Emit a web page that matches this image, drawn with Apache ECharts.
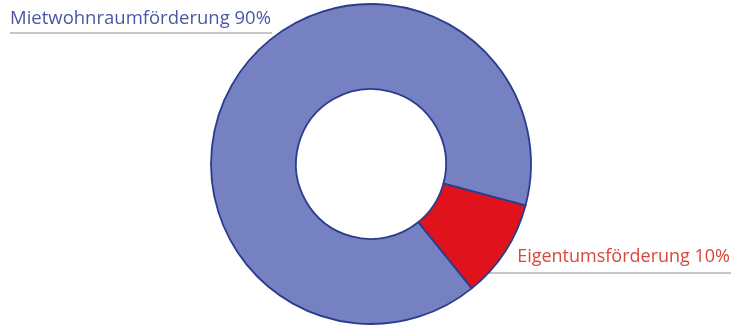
<!DOCTYPE html>
<html>
<head>
<meta charset="utf-8">
<script src="https://cdn.jsdelivr.net/npm/echarts@6/dist/echarts.min.js"></script>
<style>
  html, body { margin: 0; padding: 0; background: #fff; }
  #chart { width: 731px; height: 330px; }
</style>
</head>
<body>
<div id="chart"></div>
<script>
// Anteile der Förderung in Prozent
var categories = ['Eigentumsförderung', 'Mietwohnraumförderung'];
var shares = [10, 90];

var sliceColors = ['#e0131d', '#7581c0'];
var labelColors = ['#d9463c', '#4a58a3'];

var CX = 371, CY = 164, R_IN = 75, R_OUT = 160;

var chart = echarts.init(document.getElementById('chart'));

// x of the outer circle edge at a given y
function edgeX(y, side) {
    var d = Math.sqrt(Math.max(0, R_OUT * R_OUT - (y - CY) * (y - CY)));
    return side < 0 ? CX - d : CX + d;
}

var option = {
    animation: false,
    series: [{
        type: 'pie',
        center: [CX, CY],
        radius: [R_IN, R_OUT],
        startAngle: -15,
        clockwise: true,
        silent: true,
        itemStyle: {
            borderColor: '#2b3c8e',
            borderWidth: 1.8
        },
        label: {
            show: true,
            position: 'outside',
            fontFamily: 'Open Sans',
            fontSize: 18.5,
            overflow: 'none',
            formatter: function (p) { return p.name + ' ' + p.value + '%'; }
        },
        labelLine: {
            show: true,
            lineStyle: { color: '#8c8c8c', width: 1 }
        },
        labelLayout: function (params) {
            var w = chart.getWidth();
            if (params.dataIndex === 1) {
                // links oben, Linie unter dem Text bis zum Ring
                var y1 = 33;
                return {
                    x: 10, y: y1 - 5,
                    align: 'left', verticalAlign: 'bottom',
                    labelLinePoints: [[10, y1], [10, y1], [edgeX(y1, -1) - 7, y1]]
                };
            }
            var y2 = 273;
            return {
                x: w - 1, y: y2 - 7,
                align: 'right', verticalAlign: 'bottom',
                fontSize: 18,
                labelLinePoints: [[w, y2], [w, y2], [edgeX(y2, 1), y2]]
            };
        },
        data: categories.map(function (name, i) {
            return {
                name: name,
                value: shares[i],
                itemStyle: { color: sliceColors[i] },
                label: { color: labelColors[i] }
            };
        })
    }]
};

chart.setOption(option);
</script>
</body>
</html>
